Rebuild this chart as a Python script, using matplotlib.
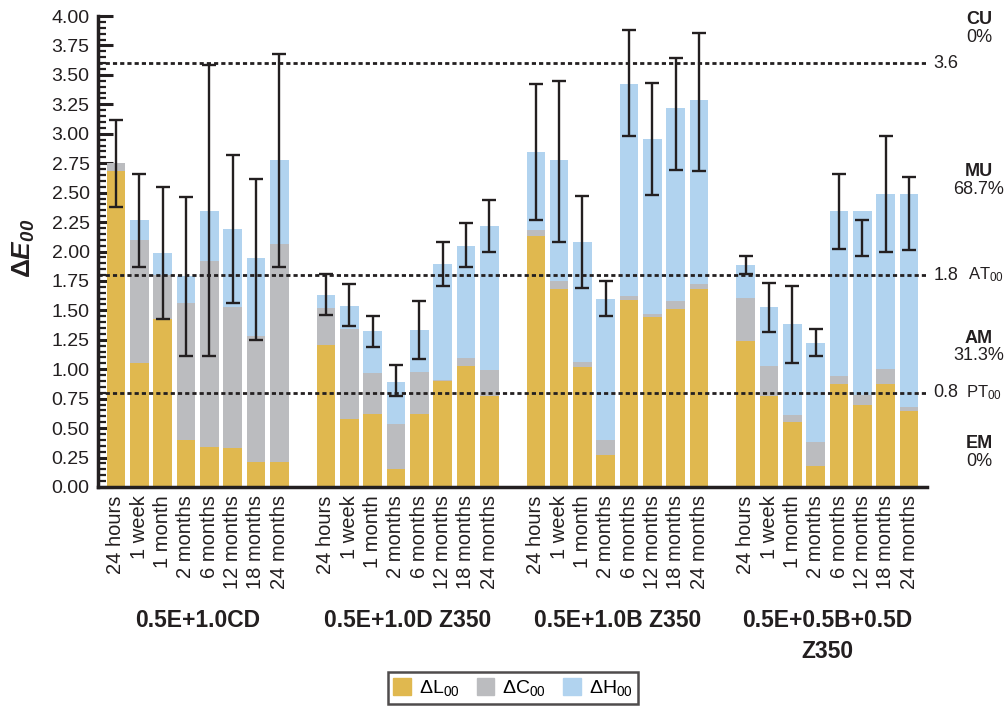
import numpy as np
import matplotlib
matplotlib.use('Agg')
import matplotlib.pyplot as plt
from matplotlib.ticker import MultipleLocator, FormatStrFormatter
from matplotlib.transforms import blended_transform_factory
from matplotlib.patches import Patch

plt.rcParams['font.family'] = 'Liberation Sans'
plt.rcParams['mathtext.fontset'] = 'custom'
plt.rcParams['mathtext.rm'] = 'Liberation Sans'
plt.rcParams['mathtext.it'] = 'Liberation Sans:italic'
plt.rcParams['mathtext.bf'] = 'Liberation Sans:bold'
plt.rcParams['mathtext.bfit'] = 'Liberation Sans:italic:bold'

# dati
groups = ['0.5E+1.0CD', '0.5E+1.0D Z350', '0.5E+1.0B Z350', '0.5E+0.5B+0.5D\nZ350']
times = ['24 hours', '1 week', '1 month', '2 months', '6 months',
         '12 months', '18 months', '24 months']

# segmenti impilati: L, C, H (un gruppo per riga)
dL = [2.68, 1.05, 1.43, 0.40, 0.34, 0.33, 0.215, 0.215,
      1.21, 0.58, 0.62, 0.15, 0.62, 0.90, 1.03, 0.775,
      2.13, 1.68, 1.02, 0.27, 1.59, 1.44, 1.51, 1.68,
      1.24, 0.775, 0.555, 0.18, 0.875, 0.70, 0.875, 0.645]
dC = [0.07, 1.05, 0.37, 1.165, 1.58, 1.20, 1.07, 1.845,
      0.31, 0.76, 0.35, 0.385, 0.36, 0.01, 0.065, 0.215,
      0.05, 0.07, 0.04, 0.13, 0.03, 0.03, 0.07, 0.04,
      0.365, 0.255, 0.055, 0.20, 0.065, 0.08, 0.125, 0.035]
dH = [0.0, 0.17, 0.19, 0.225, 0.42, 0.66, 0.66, 0.72,
      0.11, 0.20, 0.355, 0.355, 0.355, 0.98, 0.955, 1.23,
      0.665, 1.03, 1.02, 1.20, 1.80, 1.485, 1.64, 1.57,
      0.28, 0.50, 0.775, 0.84, 1.40, 1.56, 1.49, 1.81]

# estremi delle barre d'errore
err_lo = [2.38, 1.87, 1.43, 1.11, 1.11, 1.565, 1.245, 1.87,
          1.46, 1.37, 1.19, 0.77, 1.09, 1.71, 1.865, 2.00,
          2.27, 2.08, 1.69, 1.45, 2.98, 2.48, 2.69, 2.68,
          1.81, 1.32, 1.05, 1.11, 2.02, 1.96, 2.00, 2.01]
err_hi = [3.12, 2.66, 2.55, 2.46, 3.58, 2.82, 2.62, 3.68,
          1.81, 1.72, 1.45, 1.04, 1.58, 2.08, 2.245, 2.435,
          3.42, 3.45, 2.47, 1.75, 3.88, 3.43, 3.64, 3.86,
          1.96, 1.73, 1.71, 1.345, 2.66, 2.27, 2.98, 2.635]

thresholds = [3.6, 1.8, 0.8]

gold = '#E0B84F'
grey = '#BBBCBF'
blue = '#B1D3EF'
dark = '#231F20'

x = np.concatenate([np.arange(8) + 9 * g for g in range(4)])
dL = np.array(dL)
dC = np.array(dC)
dH = np.array(dH)
err_lo = np.array(err_lo)
err_hi = np.array(err_hi)

fig = plt.figure(figsize=(10.07, 7.06), dpi=100)
ax = fig.add_axes([0.0973, 0.3102, 0.8233, 0.6671])

ax.bar(x, dL, width=0.8, color=gold, zorder=2)
ax.bar(x, dC, width=0.8, bottom=dL, color=grey, zorder=2)
ax.bar(x, dH, width=0.8, bottom=dL + dC, color=blue, zorder=2)

mid = (err_lo + err_hi) / 2
half = (err_hi - err_lo) / 2
ax.errorbar(x, mid, yerr=half, fmt='none', ecolor=dark, elinewidth=1.7,
            capsize=5, capthick=1.7, zorder=4)

for t in thresholds:
    ax.axhline(t, color=dark, linestyle=(0, (1.5, 1.1)), lw=2.0, zorder=3)

ax.set_xlim(-0.77, 34.77)
ax.set_ylim(0, 4)
ax.yaxis.set_major_locator(MultipleLocator(0.25))
ax.yaxis.set_minor_locator(MultipleLocator(0.05))
ax.yaxis.set_major_formatter(FormatStrFormatter('%.2f'))
ax.tick_params(axis='y', which='major', direction='in', length=11, width=2.2,
               labelsize=14, colors=dark, pad=6)
ax.tick_params(axis='y', which='minor', direction='in', length=6, width=1.6,
               colors=dark)
ax.set_xticks(x)
ax.set_xticklabels(times * 4, rotation=90, fontsize=14.5)
ax.tick_params(axis='x', direction='in', length=8, width=2.2, colors=dark,
               pad=6)

for s in ['top', 'right']:
    ax.spines[s].set_visible(False)
for s in ['left', 'bottom']:
    ax.spines[s].set_linewidth(2.5)
    ax.spines[s].set_color(dark)
    ax.spines[s].set_zorder(5)

fig.text(24 / 1007, 1 - 248 / 706, r'$\mathbf{\Delta}\mathbfit{E}_{\mathbfit{00}}$',
         rotation=90, ha='center', va='center', fontsize=19, color=dark)

# etichette dei gruppi
gtr = blended_transform_factory(ax.transData, fig.transFigure)
for g, name in enumerate(groups):
    ax.text(9 * g + 3.5, 1 - 609 / 706, name, transform=gtr, ha='center',
            va='top', fontsize=16.5, fontweight='bold', color=dark,
            linespacing=1.45)

# etichette a destra
rtr = blended_transform_factory(fig.transFigure, ax.transData)
for t in thresholds:
    ax.text(946 / 1007, t, f'{t}', transform=rtr, ha='center', va='center',
            fontsize=13, color=dark)
ax.text(968 / 1007, 1.8, r'AT$_{00}$', transform=rtr, ha='left', va='center',
        fontsize=12, color=dark)
ax.text(966 / 1007, 0.8, r'PT$_{00}$', transform=rtr, ha='left', va='center',
        fontsize=12, color=dark)

zones = [('CU', '0%', 3.97), ('MU', '68.7%', 2.68),
         ('AM', '31.3%', 1.265), ('EM', '0%', 0.37)]
for name, pct, yv in zones:
    ax.text(979 / 1007, yv, name, transform=rtr, ha='center', va='center',
            fontsize=13, fontweight='bold', color=dark)
    ax.text(979 / 1007, yv - 0.15, pct, transform=rtr, ha='center',
            va='center', fontsize=13, color=dark)

handles = [Patch(color=gold, label=r'$\Delta$L$_{00}$'),
           Patch(color=grey, label=r'$\Delta$C$_{00}$'),
           Patch(color=blue, label=r'$\Delta$H$_{00}$')]
leg = fig.legend(handles=handles, loc='lower center',
                 bbox_to_anchor=(513 / 1007, 0.0), ncol=3, fontsize=14,
                 frameon=True, fancybox=False, handlelength=0.9,
                 handleheight=0.9, handletextpad=0.4, columnspacing=0.9,
                 borderpad=0.3, borderaxespad=0.1)
leg.get_frame().set_edgecolor(dark)
leg.get_frame().set_linewidth(1.8)

fig.savefig('out.png', dpi=100)
